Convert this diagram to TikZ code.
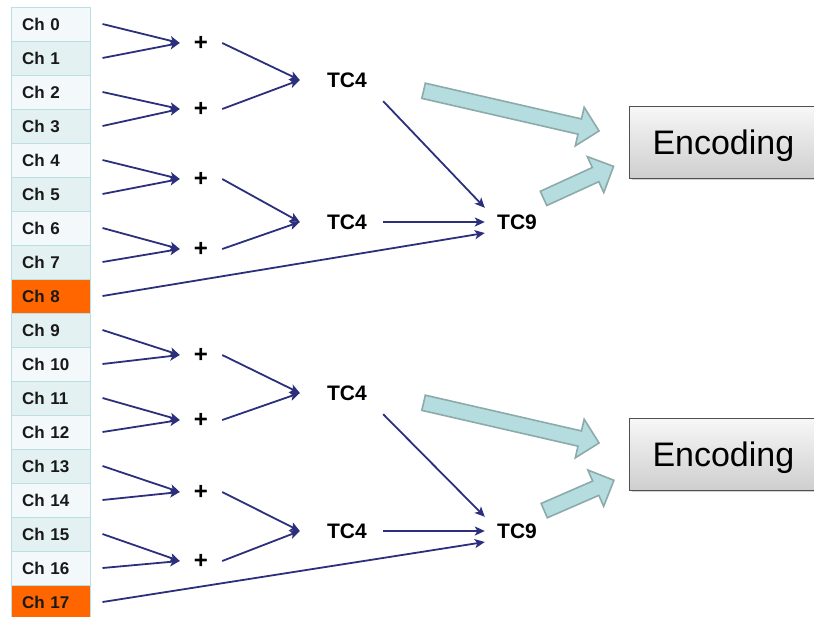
\documentclass[tikz,border=0pt]{standalone}
\usepackage{fontspec}
\setmainfont{Liberation Sans}
\usetikzlibrary{shapes.arrows,shadows,arrows.meta}
\definecolor{cNavy}{HTML}{2B2F7C}
\definecolor{cLight}{HTML}{F3F8FA}
\definecolor{cDark}{HTML}{E4F1F3}
\definecolor{cBorder}{HTML}{BCDFE3}
\definecolor{cOrange}{HTML}{FF6600}
\definecolor{cFatFill}{HTML}{B5DDE0}
\definecolor{cFatLine}{HTML}{8DAAAA}
\definecolor{cEncLine}{HTML}{505050}
\begin{document}
\begin{tikzpicture}[x=1pt,y=-1pt,
  chbox/.style={draw=cBorder, line width=1pt, minimum width=79pt, minimum height=34pt,
    text width=57pt, align=left, inner xsep=11pt, inner ysep=0pt,
    font=\fontsize{17}{19}\bfseries\selectfont, text=black!90},
  chlight/.style={chbox, fill=cLight},
  chdark/.style={chbox, fill=cDark},
  chorange/.style={chbox, fill=cOrange},
  plusn/.style={minimum width=42pt, inner sep=0pt, font=\fontsize{24}{26}\bfseries\selectfont},
  tcn/.style={minimum width=72pt, minimum height=42pt, inner sep=0pt, font=\fontsize{21}{24}\bfseries\selectfont},
  tcnine/.style={minimum width=64pt, minimum height=28pt, inner sep=0pt, font=\fontsize{21}{24}\bfseries\selectfont},
  link/.style={draw=cNavy, line width=1.8pt, -{Stealth[length=10pt,width=9pt,inset=2.5pt]}},
  fatarrow/.style={single arrow, draw=cFatLine, fill=cFatFill, line width=1.6pt,
    inner xsep=0pt, inner ysep=7pt, minimum width=39pt, single arrow head extend=12pt,
    single arrow tip angle=90},
  encn/.style={draw=cEncLine, line width=1pt, top color=gray!6, bottom color=gray!38,
    minimum height=72pt, inner xsep=23pt, text depth=0pt, font=\fontsize{34}{40}\selectfont,
    drop shadow={shadow xshift=2pt, shadow yshift=-2pt, opacity=0.35}}
]
\useasboundingbox (0,0) rectangle (814,616);

% channels
\node[chlight]  (c0)  at (50.5,24)  {Ch 0};
\node[chdark]   (c1)  at (50.5,58)  {Ch 1};
\node[chlight]  (c2)  at (50.5,92)  {Ch 2};
\node[chdark]   (c3)  at (50.5,126) {Ch 3};
\node[chlight]  (c4)  at (50.5,160) {Ch 4};
\node[chdark]   (c5)  at (50.5,194) {Ch 5};
\node[chlight]  (c6)  at (50.5,228) {Ch 6};
\node[chdark]   (c7)  at (50.5,262) {Ch 7};
\node[chorange] (c8)  at (50.5,296) {Ch 8};
\node[chdark]   (c9)  at (50.5,330) {Ch 9};
\node[chlight]  (c10) at (50.5,364) {Ch 10};
\node[chdark]   (c11) at (50.5,398) {Ch 11};
\node[chlight]  (c12) at (50.5,432) {Ch 12};
\node[chdark]   (c13) at (50.5,466) {Ch 13};
\node[chlight]  (c14) at (50.5,500) {Ch 14};
\node[chdark]   (c15) at (50.5,534) {Ch 15};
\node[chlight]  (c16) at (50.5,568) {Ch 16};
\node[chorange] (c17) at (50.5,602) {Ch 17};

% plus nodes
\node[plusn] (p0) at (201,43)  {+};
\node[plusn] (p1) at (201,109) {+};
\node[plusn] (p2) at (201,179) {+};
\node[plusn] (p3) at (201,249) {+};
\node[plusn] (p4) at (201,355) {+};
\node[plusn] (p5) at (201,420) {+};
\node[plusn] (p6) at (201,492) {+};
\node[plusn] (p7) at (201,561) {+};

% TC nodes
\node[tcn] (t0) at (347,80)  {TC4};
\node[tcn] (t1) at (347,222) {TC4};
\node[tcn] (t2) at (347,393) {TC4};
\node[tcn] (t3) at (347,531) {TC4};
\node[tcnine] (n0) at (517,222) {TC9};
\node[tcnine] (n1) at (517,531) {TC9};

% encoding boxes
\node[encn, anchor=west] (e0) at (629,142) {Encoding};
\node[encn, anchor=west] (e1) at (629,454) {Encoding};

% channel -> plus
\foreach \a/\b in {c0/p0,c1/p0,c2/p1,c3/p1,c4/p2,c5/p2,c6/p3,c7/p3,
                   c9/p4,c10/p4,c11/p5,c12/p5,c13/p6,c14/p6,c15/p7,c16/p7}
  \draw[link] ([xshift=12pt]\a.east) -- (\b.west);

% plus -> TC4
\foreach \a/\b in {p0/t0,p1/t0,p2/t1,p3/t1,p4/t2,p5/t2,p6/t3,p7/t3}
  \draw[link] (\a.east) -- ([xshift=-11pt]\b.west);

% TC4 -> TC9
\draw[link] (t0.south east) -- (n0.north west);
\draw[link] (t1.east) -- (n0.west);
\draw[link] ([xshift=12pt]c8.east) -- ([yshift=-11pt]n0.west);
\draw[link] (t2.south east) -- (n1.north west);
\draw[link] (t3.east) -- (n1.west);
\draw[link] ([xshift=12pt]c17.east) -- ([yshift=-11pt]n1.west);

% fat arrows
\node[fatarrow, minimum height=180pt, rotate=-12.9] (f0) at (507.5,110) {};
\node[fatarrow, minimum height=77pt, rotate=24.6]   (f1) at (575,184) {};
\node[fatarrow, minimum height=180pt, rotate=-12.9] (f2) at (507.5,422) {};
\node[fatarrow, minimum height=76pt, rotate=23.5]   (f3) at (575.5,497) {};
\end{tikzpicture}
\end{document}
